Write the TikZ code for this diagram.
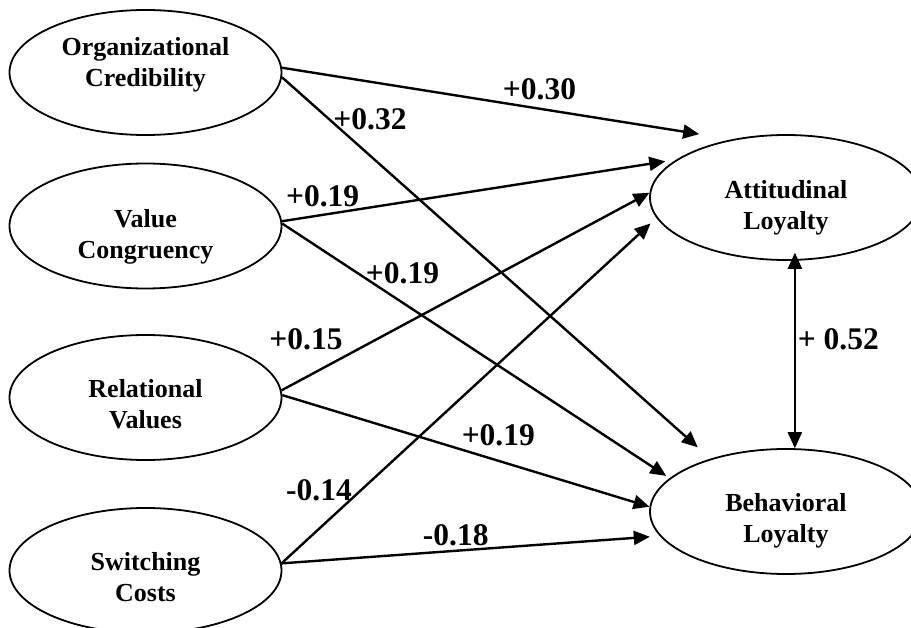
\documentclass[tikz,border=0pt]{standalone}
\usepackage{fontspec}
\setmainfont{Liberation Serif}
\usetikzlibrary{arrows.meta,shapes.geometric}
\tikzset{
  latent/.style={ellipse, draw, line width=1.8pt, minimum width=272pt, minimum height=125pt, inner sep=0pt},
  ntext/.style={align=center, font=\fontsize{26}{31}\selectfont\bfseries},
  coef/.style={anchor=base, inner sep=0pt, font=\fontsize{31.5}{36}\selectfont\bfseries},
  link/.style={draw, line width=2.4pt, -{Triangle[length=16pt,width=14pt]}},
  both/.style={draw, line width=2.4pt, {Triangle[length=16pt,width=14pt]}-{Triangle[length=16pt,width=14pt]}}
}
\begin{document}
\begin{tikzpicture}[x=1pt,y=-1pt]
\useasboundingbox (0,0) rectangle (911,628);
\node[latent, label={[ntext, yshift=8pt]center:Organizational\\Credibility}] (oc) at (145.5,72.5) {};
\node[latent, label={[ntext, yshift=-10.5pt]center:Value\\Congruency}] (vc) at (145.5,226) {};
\node[latent, label={[ntext, yshift=-6.8pt]center:Relational\\Values}] (rv) at (145.5,397.5) {};
\node[latent, label={[ntext, yshift=-6.2pt]center:Switching\\Costs}] (sc) at (145.5,570.5) {};
\node[latent, label={[ntext, yshift=-10.3pt]center:Attitudinal\\Loyalty}] (al) at (786,197.5) {};
\node[latent, label={[ntext, yshift=-9.7pt]center:Behavioral\\Loyalty}] (bl) at (786,511.5) {};

\path[link, shorten >=33pt] (oc.2.3) -- (al.133.9);
\path[link, shorten >=17pt] (oc.-2.1) -- (bl.145.3);
\path[link, shorten >=11pt] (vc.2.5) -- (al.161.4);
\path[link, shorten >=4pt] (vc.1) -- (bl.164.2);
\path[link] (rv.3) -- (al.178);
\path[link] (rv.1.5) -- (bl.178);
\path[link, shorten >=8pt] (sc.3.7) -- (al.-171.9);
\path[link, shorten >=10pt] (sc.3) -- (bl.-169.8);
\path[both, shorten <=-8pt] (al.-82.7) -- (bl.82.7);

\node[coef] (c1) at (539.5,99.3) {+0.30};
\node[coef] (c2) at (370,130) {+0.32};
\node[coef] (c3) at (322.7,206.7) {+0.19};
\node[coef] (c4) at (402.5,283.3) {+0.19};
\node[coef] (c5) at (306,349.3) {+0.15};
\node[coef] (c6) at (319,500) {-0.14};
\node[coef] (c7) at (455.8,545.7) {-0.18};
\node[coef] (c8) at (498.3,445.7) {+0.19};
\node[coef] (c9) at (838.3,349.3) {+ 0.52};
\end{tikzpicture}
\end{document}
